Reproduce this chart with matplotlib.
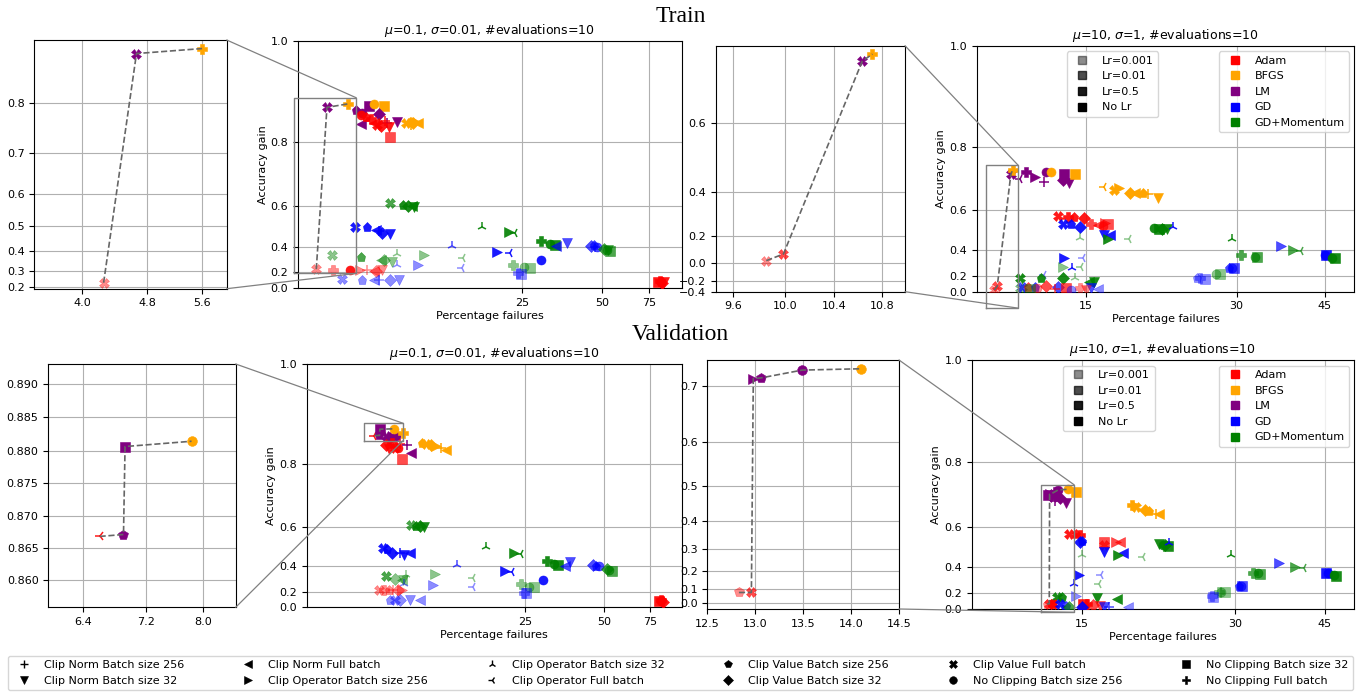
import numpy as np
import matplotlib
matplotlib.use("Agg")
import matplotlib.pyplot as plt
from matplotlib.patches import ConnectionPatch
from matplotlib.lines import Line2D
from matplotlib.ticker import FixedLocator, FuncFormatter, NullLocator

# ---------------- data ----------------
optimizers = ["Adam", "BFGS", "LM", "GD", "GD+Momentum"]
opt_colors = ["red", "orange", "purple", "blue", "green"]
lr_labels = ["Lr=0.001", "Lr=0.01", "Lr=0.5", "No Lr"]
lr_values = [0.001, 0.01, 0.5, None]
lr_alphas = [0.45, 0.7, 0.9, 1.0]
clip_keys = ["CN256", "CN32", "CNF", "CO256", "CO32", "COF",
             "CV256", "CV32", "CVF", "NC256", "NC32", "NCF"]
clip_labels = ["Clip Norm Batch size 256", "Clip Norm Batch size 32", "Clip Norm Full batch",
               "Clip Operator Batch size 256", "Clip Operator Batch size 32", "Clip Operator Full batch",
               "Clip Value Batch size 256", "Clip Value Batch size 32", "Clip Value Full batch",
               "No Clipping Batch size 256", "No Clipping Batch size 32", "No Clipping Full batch"]
clip_markers = ["+", "v", "<", ">", "2", "3", "p", "D", "X", "o", "s", "P"]

# (optimizer, clipping, lr, percentage failures, accuracy gain)
train_easy = [
    ("LM", "CV256", None, 6.0, 0.874), ("LM", "NC256", None, 6.3, 0.868),
    ("LM", "NC32", None, 6.7, 0.882), ("BFGS", "NC256", None, 6.97, 0.887),
    ("BFGS", "NC32", None, 7.6, 0.883), ("LM", "CV32", None, 7.3, 0.866),
    ("LM", "CNF", None, 6.24, 0.843), ("LM", "CN256", None, 7.8, 0.846),
    ("LM", "CN32", None, 8.5, 0.848),
    ("Adam", "NC256", 0.5, 6.24, 0.863), ("Adam", "NCF", 0.5, 6.82, 0.854),
    ("Adam", "CVF", 0.5, 7.2, 0.841), ("Adam", "CV32", 0.5, 7.4, 0.838),
    ("Adam", "CN256", 0.5, 7.7, 0.85), ("Adam", "CN32", 0.5, 7.95, 0.836),
    ("Adam", "NC32", 0.01, 8.05, 0.814), ("Adam", "CV256", 0.5, 6.5, 0.858),
    ("Adam", "CNF", 0.5, 7.0, 0.845),
    ("BFGS", "CVF", None, 9.2, 0.846), ("BFGS", "CV256", None, 9.5, 0.848),
    ("BFGS", "CV32", None, 9.8, 0.846), ("BFGS", "CO256", None, 10.0, 0.848),
    ("BFGS", "CNF", None, 10.2, 0.846), ("BFGS", "CN256", None, 9.6, 0.842),
    ("GD+Momentum", "CVF", 0.01, 8.0, 0.614), ("GD+Momentum", "CV256", 0.5, 9.0, 0.605),
    ("GD+Momentum", "CV32", 0.5, 9.4, 0.603), ("GD+Momentum", "CNF", 0.5, 9.7, 0.603),
    ("GD+Momentum", "CN32", 0.5, 9.9, 0.598),
    ("GD", "CVF", 0.5, 5.95, 0.51), ("GD", "CV256", 0.5, 6.6, 0.508),
    ("GD", "CNF", 0.5, 7.1, 0.494), ("GD", "CN256", 0.5, 7.3, 0.49),
    ("GD", "CV32", 0.5, 7.5, 0.477), ("GD", "CN32", 0.5, 8.0, 0.475),
    ("GD+Momentum", "CVF", 0.001, 4.86, 0.344), ("GD+Momentum", "CV256", 0.01, 6.24, 0.332),
    ("GD+Momentum", "CNF", 0.001, 7.4, 0.308), ("GD+Momentum", "CV32", 0.001, 7.6, 0.308),
    ("GD+Momentum", "CN32", 0.001, 8.2, 0.294), ("GD+Momentum", "CO32", 0.001, 8.5, 0.35),
    ("GD+Momentum", "CO256", 0.001, 10.8, 0.344), ("GD+Momentum", "COF", 0.001, 15.0, 0.32),
    ("GD", "CO32", 0.001, 8.5, 0.266), ("GD", "CO256", 0.001, 10.2, 0.266),
    ("GD", "CO32", 0.01, 13.7, 0.405), ("GD", "COF", 0.001, 14.9, 0.237),
    ("Adam", "NCF", 0.001, 4.9, 0.221), ("Adam", "NC256", 0.5, 5.7, 0.218),
    ("Adam", "CO256", 0.001, 6.2, 0.221), ("Adam", "CN256", 0.001, 6.6, 0.218),
    ("Adam", "CNF", 0.001, 7.0, 0.214), ("Adam", "CV32", 0.001, 7.1, 0.214),
    ("Adam", "CN32", 0.001, 7.5, 0.221),
    ("GD", "CVF", 0.001, 5.3, 0.123), ("GD", "CV256", 0.001, 6.3, 0.12),
    ("GD", "CNF", 0.001, 7.0, 0.115), ("GD", "CN256", 0.001, 7.3, 0.115),
    ("GD", "CV32", 0.001, 8.0, 0.115), ("GD", "CN32", 0.001, 8.7, 0.115),
    ("GD+Momentum", "CO32", 0.5, 17.7, 0.51), ("GD+Momentum", "CO256", 0.5, 22.3, 0.483),
    ("GD+Momentum", "COF", 0.5, 23.5, 0.478), ("GD+Momentum", "NCF", 0.5, 29.6, 0.434),
    ("GD+Momentum", "NC256", 0.5, 31.9, 0.417), ("GD+Momentum", "NC32", 0.5, 33.3, 0.408),
    ("GD", "CNF", 0.01, 33.6, 0.405), ("GD", "CN32", 0.01, 36.9, 0.425),
    ("GD", "CV32", 0.01, 45.5, 0.405), ("GD", "CV256", 0.01, 46.5, 0.41),
    ("GD", "NC256", 0.01, 48.0, 0.40), ("GD", "CN256", 0.01, 47.0, 0.40),
    ("GD+Momentum", "CV32", 0.01, 50.6, 0.385), ("GD+Momentum", "NC256", 0.01, 52.0, 0.38),
    ("GD+Momentum", "NC32", 0.01, 53.5, 0.372), ("GD+Momentum", "CN32", 0.01, 52.8, 0.378),
    ("GD", "CO256", 0.5, 20.2, 0.367), ("GD", "COF", 0.5, 22.6, 0.357),
    ("GD", "NC256", 0.5, 29.4, 0.308),
    ("GD+Momentum", "NCF", 0.001, 23.2, 0.266), ("GD+Momentum", "NC256", 0.001, 25.5, 0.245),
    ("GD+Momentum", "NC32", 0.001, 26.9, 0.237),
    ("GD", "NCF", 0.001, 24.1, 0.189), ("GD", "NC32", 0.001, 24.8, 0.185),
    ("Adam", "NC32", 0.5, 81.0, 0.09), ("Adam", "NC256", 0.5, 83.0, 0.085),
    ("Adam", "NCF", 0.5, 82.0, 0.10), ("Adam", "CV32", 0.5, 84.0, 0.08),
    ("Adam", "CN32", 0.5, 85.0, 0.088),
]
front_train_easy = [
    ("Adam", "CVF", 0.001, 4.25, 0.229), ("LM", "CVF", None, 4.66, 0.8795),
    ("BFGS", "NCF", None, 5.6, 0.8868),
]

train_hard = [
    ("LM", "COF", None, 11.1, 0.709), ("LM", "NCF", None, 11.4, 0.732),
    ("LM", "CO256", None, 11.9, 0.717), ("LM", "CN256", None, 12.4, 0.70),
    ("LM", "NC256", None, 12.5, 0.73), ("BFGS", "NC256", None, 12.8, 0.73),
    ("LM", "NC32", None, 13.6, 0.724), ("LM", "CV32", None, 13.5, 0.706),
    ("LM", "CN32", None, 13.9, 0.696), ("BFGS", "NC32", None, 14.3, 0.724),
    ("BFGS", "COF", None, 16.3, 0.683), ("BFGS", "CVF", None, 17.1, 0.674),
    ("BFGS", "CO256", None, 17.5, 0.68), ("BFGS", "CV32", None, 18.4, 0.663),
    ("BFGS", "CNF", None, 18.8, 0.663), ("BFGS", "CV256", None, 19.5, 0.665),
    ("BFGS", "CN256", None, 20.0, 0.66), ("BFGS", "CN32", None, 20.9, 0.648),
    ("Adam", "CVF", 0.5, 13.2, 0.576), ("Adam", "NCF", 0.5, 13.8, 0.571),
    ("Adam", "CV256", 0.5, 14.2, 0.571), ("Adam", "CV32", 0.5, 14.9, 0.568),
    ("GD", "CVF", 0.5, 13.5, 0.541), ("GD", "CV256", 0.5, 14.0, 0.541),
    ("GD", "CV32", 0.5, 14.6, 0.529),
    ("Adam", "NCF", 0.01, 15.4, 0.541), ("Adam", "CNF", 0.01, 15.9, 0.537),
    ("Adam", "NC256", 0.01, 16.2, 0.53), ("Adam", "NC32", 0.01, 16.6, 0.541),
    ("Adam", "CO256", 0.01, 16.4, 0.545),
    ("GD", "CN32", 0.5, 16.3, 0.487), ("GD", "CNF", 0.5, 16.8, 0.487),
    ("GD+Momentum", "CO256", 0.5, 16.6, 0.466), ("GD+Momentum", "CO32", 0.001, 14.6, 0.47),
    ("GD+Momentum", "COF", 0.001, 18.3, 0.466),
    ("GD+Momentum", "NC256", 0.5, 20.5, 0.521), ("GD+Momentum", "NC32", 0.5, 21.0, 0.52),
    ("GD+Momentum", "CV32", 0.5, 21.3, 0.518), ("GD+Momentum", "CN32", 0.5, 21.8, 0.52),
    ("GD", "CO32", 0.5, 22.4, 0.529),
    ("GD", "CO256", 0.5, 13.6, 0.346), ("GD", "COF", 0.001, 14.8, 0.35),
    ("GD+Momentum", "CO256", 0.001, 13.5, 0.276), ("GD", "CO32", 0.5, 14.1, 0.27),
    ("GD+Momentum", "COF", 0.001, 14.7, 0.276), ("GD", "COF", 0.001, 12.4, 0.207),
    ("GD+Momentum", "CO32", 0.001, 14.3, 0.18),
    ("GD+Momentum", "CVF", 0.5, 11.1, 0.174), ("GD+Momentum", "CV256", 0.5, 12.2, 0.174),
    ("GD+Momentum", "CV32", 0.5, 13.5, 0.174),
    ("GD+Momentum", "CVF", 0.001, 11.1, 0.05), ("GD", "CVF", 0.01, 11.2, 0.075),
    ("Adam", "CV256", 0.01, 11.5, 0.07), ("GD", "CV256", 0.01, 11.9, 0.07),
    ("Adam", "CV32", 0.01, 12.5, 0.08), ("GD", "CV32", 0.01, 13.2, 0.07),
    ("Adam", "NC32", 0.01, 13.7, 0.06), ("Adam", "NCF", 0.001, 14.6, 0.06),
    ("GD+Momentum", "CNF", 0.5, 15.2, 0.135), ("GD+Momentum", "CN32", 0.5, 15.6, 0.135),
    ("GD", "CN32", 0.01, 15.4, 0.06), ("GD", "CNF", 0.001, 15.9, 0.04),
    ("Adam", "NC256", 0.001, 12.0, 0.05), ("Adam", "CN256", 0.01, 13.0, 0.04),
    ("GD", "NC256", 0.001, 14.0, 0.03), ("Adam", "CN32", 0.001, 15.0, 0.03),
    ("GD+Momentum", "NC32", 0.001, 11.6, 0.04),
    ("GD+Momentum", "CO32", 0.5, 29.4, 0.467), ("GD", "CO256", 0.01, 36.7, 0.427),
    ("GD+Momentum", "CO256", 0.01, 38.9, 0.40), ("GD+Momentum", "COF", 0.01, 40.3, 0.395),
    ("GD+Momentum", "NCF", 0.01, 30.6, 0.369), ("GD+Momentum", "NC256", 0.01, 32.6, 0.358),
    ("GD+Momentum", "NC32", 0.01, 33.0, 0.358),
    ("GD", "NC256", 0.01, 29.3, 0.269), ("GD", "NC32", 0.01, 29.7, 0.269),
    ("GD", "CV256", 0.01, 29.0, 0.27),
    ("GD", "NC32", 0.5, 45.3, 0.369), ("GD", "NC256", 0.5, 45.0, 0.37),
    ("GD+Momentum", "NC32", 0.5, 47.2, 0.347), ("GD+Momentum", "NC256", 0.5, 46.5, 0.35),
    ("GD+Momentum", "NC256", 0.001, 27.3, 0.214), ("GD+Momentum", "NC32", 0.001, 27.8, 0.214),
    ("GD", "NCF", 0.001, 25.4, 0.174), ("GD", "NC32", 0.001, 25.9, 0.17),
    ("GD", "CV256", 0.001, 25.0, 0.18),
]
front_train_hard = [
    ("Adam", "CVF", 0.001, 9.855, 0.024), ("Adam", "CVF", 0.01, 9.99, 0.079),
    ("LM", "CVF", None, 10.634, 0.724), ("BFGS", "NCF", None, 10.72, 0.736),
]

val_easy = [
    ("LM", "CVF", None, 7.3, 0.866), ("LM", "CV32", None, 7.6, 0.862),
    ("LM", "NC256", None, 8.0, 0.865), ("BFGS", "NCF", None, 8.5, 0.873),
    ("Adam", "CV32", 0.5, 7.3, 0.845), ("Adam", "NCF", 0.5, 7.7, 0.85),
    ("Adam", "CVF", 0.5, 7.9, 0.84), ("Adam", "NC256", 0.5, 8.1, 0.838),
    ("Adam", "CN256", 0.5, 8.3, 0.848), ("Adam", "CN32", 0.5, 7.5, 0.836),
    ("Adam", "NC32", 0.01, 8.4, 0.812),
    ("LM", "CNF", None, 9.1, 0.826), ("LM", "CN256", None, 8.8, 0.845),
    ("BFGS", "CV256", None, 10.0, 0.85), ("BFGS", "CVF", None, 10.4, 0.848),
    ("BFGS", "CV32", None, 10.9, 0.845), ("BFGS", "CO256", None, 11.4, 0.843),
    ("BFGS", "CNF", None, 12.4, 0.835), ("BFGS", "CN256", None, 11.9, 0.838),
    ("GD+Momentum", "CVF", 0.01, 9.1, 0.606), ("GD+Momentum", "CV256", 0.5, 9.5, 0.605),
    ("GD+Momentum", "CV32", 0.5, 9.9, 0.602), ("GD+Momentum", "CN32", 0.5, 10.2, 0.598),
    ("GD", "CVF", 0.5, 7.1, 0.504), ("GD", "CV256", 0.5, 7.4, 0.50),
    ("GD", "CV32", 0.5, 7.7, 0.477), ("GD", "CN256", 0.5, 8.3, 0.478),
    ("GD", "CN32", 0.5, 8.6, 0.47), ("GD", "CNF", 0.5, 9.0, 0.48),
    ("GD+Momentum", "CO32", 0.5, 17.7, 0.511), ("GD+Momentum", "CO256", 0.5, 22.7, 0.48),
    ("GD+Momentum", "COF", 0.5, 24.0, 0.475),
    ("GD+Momentum", "NCF", 0.5, 30.2, 0.433), ("GD+Momentum", "NC256", 0.5, 32.1, 0.416),
    ("GD+Momentum", "NC32", 0.5, 33.3, 0.41),
    ("GD", "CNF", 0.01, 35.6, 0.405), ("GD", "CN32", 0.01, 37.0, 0.43),
    ("GD", "CV32", 0.01, 45.4, 0.41), ("GD", "CV256", 0.01, 46.5, 0.405),
    ("GD", "NC256", 0.01, 48.0, 0.40),
    ("GD+Momentum", "CV32", 0.01, 51.3, 0.385), ("GD+Momentum", "NC256", 0.01, 52.5, 0.378),
    ("GD+Momentum", "NC32", 0.01, 53.5, 0.37),
    ("GD", "CO256", 0.5, 20.8, 0.37), ("GD", "COF", 0.5, 22.3, 0.36),
    ("GD", "NC256", 0.5, 29.2, 0.304),
    ("GD+Momentum", "NCF", 0.001, 24.1, 0.268), ("GD+Momentum", "NC256", 0.001, 25.9, 0.246),
    ("GD+Momentum", "NC32", 0.001, 26.9, 0.245),
    ("GD", "NCF", 0.001, 24.8, 0.188), ("GD", "NC32", 0.001, 25.2, 0.185),
    ("GD", "CO32", 0.01, 13.7, 0.41),
    ("GD+Momentum", "CO256", 0.001, 11.3, 0.346), ("GD+Momentum", "COF", 0.001, 15.8, 0.322),
    ("GD", "CO256", 0.001, 11.1, 0.262), ("GD", "COF", 0.001, 15.7, 0.245),
    ("GD+Momentum", "CVF", 0.01, 7.3, 0.336), ("GD+Momentum", "CV32", 0.001, 7.9, 0.31),
    ("GD+Momentum", "CN32", 0.001, 8.5, 0.30), ("GD+Momentum", "CO32", 0.001, 8.7, 0.34),
    ("GD+Momentum", "CNF", 0.001, 8.4, 0.305), ("GD", "CO32", 0.001, 8.6, 0.27),
    ("Adam", "CVF", 0.001, 6.9, 0.215), ("Adam", "NCF", 0.001, 7.2, 0.215),
    ("Adam", "CV256", 0.001, 7.5, 0.215), ("Adam", "CN256", 0.001, 7.8, 0.212),
    ("Adam", "CV32", 0.001, 8.1, 0.215), ("Adam", "CO256", 0.001, 8.4, 0.212),
    ("GD", "CVF", 0.001, 7.9, 0.105), ("GD", "CV256", 0.001, 7.6, 0.11),
    ("GD", "CV32", 0.001, 8.3, 0.10), ("GD", "CN32", 0.001, 9.0, 0.10),
    ("GD", "CNF", 0.001, 9.9, 0.104),
    ("Adam", "NC32", 0.5, 81.5, 0.09), ("Adam", "NC256", 0.5, 83.0, 0.085),
    ("Adam", "NCF", 0.5, 82.5, 0.10), ("Adam", "CV32", 0.5, 84.0, 0.08),
]
front_val_easy = [
    ("Adam", "COF", 0.5, 6.6, 0.8668), ("LM", "CV256", None, 6.9, 0.8671),
    ("LM", "NC32", None, 6.92, 0.8806), ("BFGS", "NC256", None, 7.83, 0.8814),
]

val_hard = [
    ("LM", "NC32", None, 12.9, 0.71), ("LM", "CVF", None, 13.2, 0.705),
    ("LM", "CV32", None, 13.6, 0.70), ("LM", "CN256", None, 13.3, 0.69),
    ("LM", "CN32", None, 14.0, 0.685), ("LM", "NCF", None, 13.3, 0.72),
    ("BFGS", "NC32", None, 14.6, 0.72),
    ("BFGS", "NCF", None, 18.8, 0.678), ("BFGS", "CVF", None, 19.2, 0.672),
    ("BFGS", "CV32", None, 20.0, 0.661), ("BFGS", "CV256", None, 20.3, 0.657),
    ("BFGS", "CNF", None, 21.3, 0.646), ("BFGS", "CN256", None, 21.0, 0.648),
    ("Adam", "CVF", 0.5, 14.2, 0.572), ("Adam", "CV256", 0.5, 14.6, 0.57),
    ("Adam", "NCF", 0.5, 14.9, 0.568),
    ("GD", "CV32", 0.5, 14.9, 0.534), ("GD", "CV256", 0.5, 15.0, 0.54),
    ("Adam", "NC32", 0.01, 16.6, 0.535), ("Adam", "CVF", 0.01, 16.6, 0.52),
    ("Adam", "CNF", 0.01, 17.8, 0.535), ("Adam", "CO256", 0.01, 17.5, 0.535),
    ("GD", "CN32", 0.5, 16.6, 0.488), ("GD", "CNF", 0.5, 18.1, 0.48),
    ("GD+Momentum", "CO256", 0.5, 17.7, 0.471), ("GD+Momentum", "CO32", 0.001, 15.0, 0.47),
    ("GD+Momentum", "COF", 0.001, 19.8, 0.46),
    ("GD+Momentum", "CN32", 0.5, 21.3, 0.525), ("GD+Momentum", "NC256", 0.5, 21.7, 0.52),
    ("GD+Momentum", "NC32", 0.5, 22.2, 0.515), ("GD+Momentum", "CV32", 0.5, 21.9, 0.52),
    ("GD", "CO32", 0.5, 22.3, 0.53),
    ("GD+Momentum", "CO32", 0.5, 29.4, 0.47), ("GD", "CO256", 0.01, 36.6, 0.425),
    ("GD+Momentum", "CO256", 0.01, 39.3, 0.405), ("GD+Momentum", "COF", 0.01, 40.9, 0.395),
    ("GD+Momentum", "NCF", 0.01, 32.6, 0.366), ("GD+Momentum", "NC256", 0.01, 33.2, 0.363),
    ("GD+Momentum", "NC32", 0.01, 33.5, 0.36),
    ("GD", "NC32", 0.5, 45.3, 0.366), ("GD", "NC256", 0.5, 45.6, 0.364),
    ("GD+Momentum", "NC32", 0.5, 47.4, 0.345), ("GD+Momentum", "NC256", 0.5, 46.8, 0.35),
    ("GD", "NC256", 0.01, 30.8, 0.265), ("GD", "CV256", 0.01, 30.5, 0.265),
    ("GD", "NC32", 0.01, 31.0, 0.262),
    ("GD+Momentum", "NC256", 0.001, 28.2, 0.213), ("GD+Momentum", "NC32", 0.001, 28.6, 0.21),
    ("GD+Momentum", "NCF", 0.001, 27.9, 0.215),
    ("GD", "NC32", 0.001, 27.2, 0.163), ("GD", "NCF", 0.001, 27.0, 0.17),
    ("GD", "CO256", 0.5, 14.8, 0.35), ("GD", "COF", 0.001, 16.4, 0.35),
    ("GD+Momentum", "COF", 0.001, 16.2, 0.279), ("GD", "CO32", 0.5, 14.5, 0.28),
    ("GD", "CO256", 0.001, 14.6, 0.17),
    ("GD+Momentum", "CVF", 0.5, 13.4, 0.157), ("GD+Momentum", "CV256", 0.5, 13.7, 0.157),
    ("GD+Momentum", "CN32", 0.5, 16.1, 0.148), ("GD+Momentum", "CNF", 0.5, 17.6, 0.135),
    ("Adam", "NC256", 0.5, 13.1, 0.08), ("Adam", "CVF", 0.5, 13.2, 0.07),
    ("GD", "CVF", 0.5, 13.6, 0.08),
    ("Adam", "NC32", 0.5, 15.1, 0.072), ("Adam", "NCF", 0.5, 15.4, 0.07),
    ("Adam", "CV32", 0.01, 15.8, 0.06), ("Adam", "CN32", 0.01, 16.3, 0.05),
    ("GD", "CV256", 0.01, 14.0, 0.05), ("GD", "CV32", 0.5, 15.0, 0.04),
    ("GD", "CN32", 0.01, 16.6, 0.04), ("GD", "CNF", 0.001, 18.5, 0.03),
    ("GD", "CN256", 0.01, 17.0, 0.035), ("GD+Momentum", "CV32", 0.01, 14.2, 0.04),
]
front_val_hard = [
    ("Adam", "CV256", 0.001, 12.83, 0.078), ("Adam", "CVF", 0.01, 12.96, 0.078),
    ("LM", "CO256", None, 12.98, 0.712), ("LM", "CV256", None, 13.06, 0.713),
    ("LM", "NC256", None, 13.49, 0.725), ("BFGS", "NC256", None, 14.1, 0.727),
]

titles = [r"$\mu$=0.1, $\sigma$=0.01, #evaluations=10", r"$\mu$=10, $\sigma$=1, #evaluations=10"]

# ---------------- helpers ----------------
W, H = 1361, 692
fig = plt.figure(figsize=(W / 100, H / 100), dpi=100)
plt.rcParams["font.size"] = 8

COL = dict(zip(optimizers, opt_colors))
MK = dict(zip(clip_keys, clip_markers))
ALPHA = {lr: a for lr, a in zip(lr_values, lr_alphas)}


def add_ax(L, T, R, B):
    return fig.add_axes([L / W, 1 - B / H, (R - L) / W, (B - T) / H])


def fwd(y):
    return np.power(10.0, y)


def inv(y):
    return np.log10(np.clip(y, 1e-12, None))


def draw_points(ax, pts, ms=6.5):
    for opt, clip, lr, x, y in pts:
        m = MK[clip]
        thin = m in ("+", "2", "3")
        ax.plot(x, y, ls="none", marker=m, ms=ms + 0.5 if thin else ms,
                color=COL[opt], alpha=ALPHA[lr], mew=1.1 if thin else 0.4, zorder=3)


def draw_front(ax, pts):
    ax.plot([p[3] for p in pts], [p[4] for p in pts], ls="--", color="0.4",
            lw=1.2, zorder=4)


def fmt(dec):
    return FuncFormatter(lambda v, p: f"{v:.{dec}f}".replace("-", "\u2212"))


def setup(ax, xlim, ylim, xticks, yticks, xdec, ydec, xlog=True):
    if xlog:
        ax.set_xscale("log")
    ax.set_yscale("function", functions=(fwd, inv))
    ax.set_xlim(*xlim)
    ax.set_ylim(*ylim)
    ax.xaxis.set_major_locator(FixedLocator(xticks))
    ax.xaxis.set_major_formatter(fmt(xdec))
    ax.xaxis.set_minor_locator(NullLocator())
    ax.yaxis.set_major_locator(FixedLocator(yticks))
    ax.yaxis.set_major_formatter(fmt(ydec))
    ax.yaxis.set_minor_locator(NullLocator())
    ax.grid(True, color="#b0b0b0", lw=0.8)
    ax.set_axisbelow(True)
    ax.tick_params(labelsize=8, length=3.5)


panels = [
    dict(main=(298, 40.7, 681.7, 288.3), inset=(34.3, 40, 226.7, 288.7),
         pts=train_easy, front=front_train_easy, title=titles[0],
         xlim=(3.63, 99.3), xt=[25, 50, 75],
         ixlim=(3.5, 6.0), iylim=(0.188, 0.899), ixt=[4.0, 4.8, 5.6],
         iyt=[0.2, 0.3, 0.4, 0.5, 0.6, 0.7, 0.8], ixd=1, iyd=1, ixlog=True),
    dict(main=(976.7, 45.7, 1354.3, 291.7), inset=(716, 45.7, 905, 291.7),
         pts=train_hard, front=front_train_hard, title=titles[1],
         xlim=(9.09, 51.5), xt=[15, 30, 45],
         ixlim=(9.47, 11.0), iylim=(-0.4, 0.75), ixt=[9.6, 10.0, 10.4, 10.8],
         iyt=[-0.4, -0.2, 0.0, 0.2, 0.4, 0.6], ixd=1, iyd=1, ixlog=True),
    dict(main=(306.7, 364.3, 681.7, 607.3), inset=(48.3, 364, 235.7, 607.3),
         pts=val_easy, front=front_val_easy, title=titles[0],
         xlim=(3.63, 99.3), xt=[25, 50, 75],
         ixlim=(6.0, 8.5), iylim=(0.8556, 0.8929), ixt=[6.4, 7.2, 8.0],
         iyt=[0.86, 0.865, 0.87, 0.875, 0.88, 0.885, 0.89], ixd=1, iyd=3, ixlog=True),
    dict(main=(971.7, 360, 1354.3, 609.3), inset=(707.3, 360, 899, 609),
         pts=val_hard, front=front_val_hard, title=titles[1],
         xlim=(9.13, 51.4), xt=[15, 30, 45],
         ixlim=(12.5, 14.5), iylim=(-0.05, 0.74), ixt=[12.5, 13.0, 13.5, 14.0, 14.5],
         iyt=[0.0, 0.1, 0.2, 0.3, 0.4, 0.5, 0.6, 0.7], ixd=1, iyd=1, ixlog=False),
]

for i, P in enumerate(panels):
    ax = add_ax(*P["main"])
    ins = add_ax(*P["inset"])
    draw_points(ax, P["pts"] + P["front"])
    draw_front(ax, P["front"])
    draw_points(ins, P["front"], ms=7)
    draw_front(ins, P["front"])
    setup(ax, P["xlim"], (0.0, 1.0), P["xt"], [0.0, 0.2, 0.4, 0.6, 0.8, 1.0], 0, 1)
    setup(ins, P["ixlim"], P["iylim"], P["ixt"], P["iyt"], P["ixd"], P["iyd"], P["ixlog"])
    ax.set_title(P["title"], fontsize=9, pad=5)
    ax.set_xlabel("Percentage failures", fontsize=8, labelpad=2)
    ax.set_ylabel("Accuracy gain", fontsize=8, labelpad=2)
    x0, x1 = P["ixlim"]
    y0, y1 = P["iylim"]
    ax.plot([x0, x1, x1, x0, x0], [y0, y0, y1, y1, y0], color="0.5", lw=1.0,
            clip_on=False, zorder=5)
    ax.set_xlim(*P["xlim"])
    ax.set_ylim(0.0, 1.0)
    for ya, yb in ((1, y1), (0, y0)):
        cp = ConnectionPatch(xyA=(1, ya), coordsA=ins.transAxes, xyB=(x1, yb),
                             coordsB=ax.transData, color="0.5", lw=0.9)
        fig.add_artist(cp)
    if i in (1, 3):
        lr_h = [Line2D([], [], marker="s", ls="none", color="k", alpha=a, ms=6)
                for a in lr_alphas]
        leg1 = ax.legend(lr_h, lr_labels, loc="upper left", bbox_to_anchor=(0.238, 0.977),
                         fontsize=8, borderaxespad=0)
        ax.add_artist(leg1)
        op_h = [Line2D([], [], marker="s", ls="none", color=c, ms=6) for c in opt_colors]
        ax.legend(op_h, optimizers, loc="upper right", bbox_to_anchor=(0.987, 0.977),
                  fontsize=8, borderaxespad=0)

fig.text(0.5, 1 - 16 / H, "Train", ha="center", va="center", fontsize=17,
         family="Liberation Serif")
fig.text(0.5, 1 - 334 / H, "Validation", ha="center", va="center", fontsize=17,
         family="Liberation Serif")

clip_h = []
for m in clip_markers:
    thin = m in ("+", "2", "3")
    clip_h.append(Line2D([], [], marker=m, ls="none", color="k", ms=6 if thin else 5.5,
                         mew=1.0 if thin else 0.4))
fig.legend(clip_h, clip_labels, ncol=6, loc="lower left",
           bbox_to_anchor=(8 / W, 2 / H, 1345 / W, 42 / H), mode="expand",
           fontsize=8, borderaxespad=0, handletextpad=0.8)

fig.savefig("out.png", dpi=100)
